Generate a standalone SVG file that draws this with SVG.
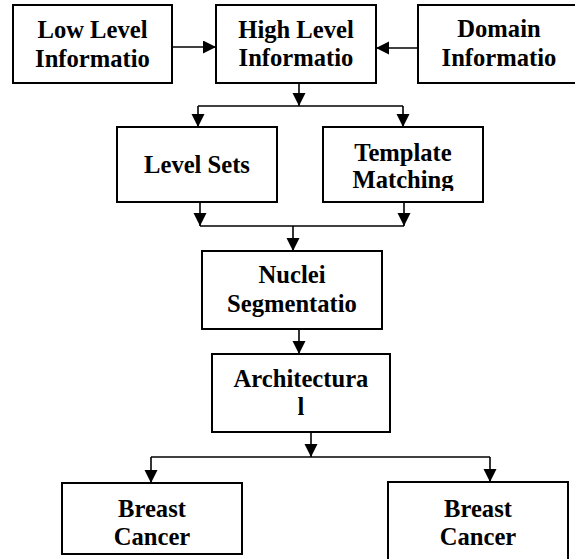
<svg xmlns="http://www.w3.org/2000/svg" width="575" height="559" viewBox="0 0 575 559">
<style>
.box{fill:#fff;stroke:#000;stroke-width:2}
.t{font-family:"Liberation Serif","Times New Roman",serif;font-weight:bold;font-size:24.6px;fill:#000;text-anchor:middle}
.c{fill:none;stroke:#000;stroke-width:1.6}
</style>
<defs>
<marker id="ah" markerUnits="userSpaceOnUse" markerWidth="14" markerHeight="14" refX="13" refY="6.5" orient="auto">
<path d="M0,0 L13,6.5 L0,13 Z" fill="#000"/>
</marker>
<clipPath id="tclip"><rect x="323" y="127" width="160" height="64"/></clipPath>
</defs>
<rect width="575" height="559" fill="#fff"/>
<g id="connectors">
<line class="c" x1="172" y1="47" x2="216" y2="47" marker-end="url(#ah)"/>
<line class="c" x1="418" y1="48" x2="376" y2="48" marker-end="url(#ah)"/>
<line class="c" x1="299" y1="83" x2="299" y2="106" marker-end="url(#ah)"/>
<line class="c" x1="198" y1="106" x2="403" y2="106"/>
<line class="c" x1="198" y1="106" x2="198" y2="127" marker-end="url(#ah)"/>
<line class="c" x1="403" y1="106" x2="403" y2="127" marker-end="url(#ah)"/>
<line class="c" x1="200" y1="202" x2="200" y2="226" marker-end="url(#ah)"/>
<line class="c" x1="404" y1="202" x2="404" y2="226" marker-end="url(#ah)"/>
<line class="c" x1="200" y1="226" x2="404" y2="226"/>
<line class="c" x1="293" y1="226" x2="293" y2="251" marker-end="url(#ah)"/>
<line class="c" x1="299" y1="329" x2="299" y2="354" marker-end="url(#ah)"/>
<line class="c" x1="311" y1="432" x2="311" y2="457" marker-end="url(#ah)"/>
<line class="c" x1="151" y1="457" x2="490" y2="457"/>
<line class="c" x1="151" y1="457" x2="151" y2="483" marker-end="url(#ah)"/>
<line class="c" x1="490" y1="457" x2="490" y2="482" marker-end="url(#ah)"/>
</g>
<g id="low">
<rect class="box" x="13" y="5" width="159" height="78"/>
<text class="t" x="92.5" y="38">Low Level</text>
<text class="t" x="92.5" y="67">Informatio</text>
</g>
<g id="high">
<rect class="box" x="216" y="5" width="160" height="78"/>
<text class="t" x="296" y="38">High Level</text>
<text class="t" x="296" y="66">Informatio</text>
</g>
<g id="domain">
<rect class="box" x="418" y="5" width="162" height="78"/>
<text class="t" x="499" y="37">Domain</text>
<text class="t" x="499" y="66">Informatio</text>
</g>
<g id="levelsets">
<rect class="box" x="117" y="127" width="160" height="75"/>
<text class="t" x="197" y="173">Level Sets</text>
</g>
<g id="template">
<rect class="box" x="323" y="127" width="160" height="75"/>
<g clip-path="url(#tclip)">
<text class="t" x="403" y="161">Template</text>
<text class="t" x="403" y="188">Matching</text>
</g>
</g>
<g id="nuclei">
<rect class="box" x="202" y="251" width="180" height="78"/>
<text class="t" x="292" y="283">Nuclei</text>
<text class="t" x="292" y="312">Segmentatio</text>
</g>
<g id="arch">
<rect class="box" x="212" y="354" width="178" height="78"/>
<text class="t" x="301" y="387">Architectura</text>
<text class="t" x="301" y="415">l</text>
</g>
<g id="bc1">
<rect class="box" x="62" y="483" width="180" height="71"/>
<text class="t" x="152" y="517">Breast</text>
<text class="t" x="152" y="545">Cancer</text>
</g>
<g id="bc2">
<rect class="box" x="388" y="482" width="180" height="90"/>
<text class="t" x="478" y="517">Breast</text>
<text class="t" x="478" y="545">Cancer</text>
</g>
</svg>
